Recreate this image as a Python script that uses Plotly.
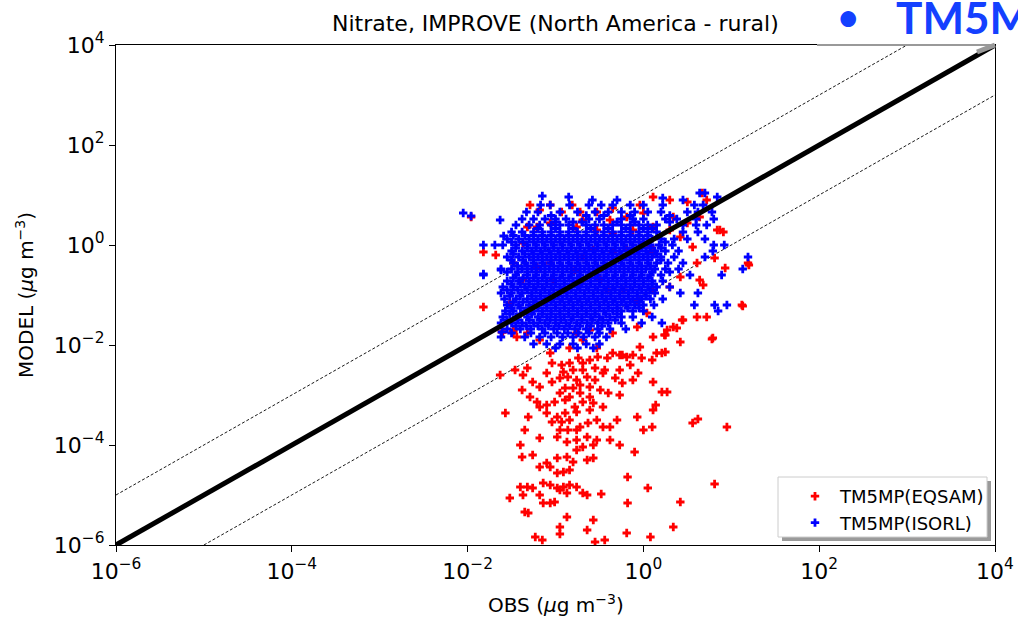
import plotly.graph_objects as go

# ---------------- data (log10 of values) ----------------
axis_range_exp = [-6, 4]          # both axes span 1e-6 .. 1e4
tick_exps = [-6, -4, -2, 0, 2, 4]

# TM5MP(ISORL): rows of (log10 MODEL, [log10 OBS ...])
isorl_rows = [
    (0.98, [-1.15]),
    (0.96, [-0.85, 0.84]),
    (0.94, [0.22]),
    (1.04, [0.64, 0.70]),
    (0.90, [-0.58, -0.30, 0.45]),
    (0.80, [-1.17, -1.06, -0.84, -0.62, -0.48, -0.35, -0.15, 0.0, 0.22, 0.58, 0.68]),
    (0.66, [-1.33, -1.2, -0.95, -0.75, -0.55, -0.4, -0.25, -0.1, 0.05, 0.2, 0.5, 0.62, 0.78]),
    (0.52, [-1.38, -1.25, -1.12, -1.0, -0.88, -0.62, -0.5, -0.25, -0.12, 0.0, 0.25, 0.38, 0.6, 0.8]),
    (0.40, [-1.45, -1.3, -1.18, -1.05, -0.95, -0.85, -0.65, -0.55, -0.45, -0.35, -0.25, -0.15, -0.05, 0.05, 0.15, 0.45, 0.6, 0.72]),
    (0.26, [-1.5, -1.38, -1.25, -1.15, -1.05, -0.95, -0.85, -0.75, -0.65, -0.55, -0.45, -0.35, -0.25, -0.15, -0.05, 0.05, 0.15, 0.45, 0.62]),
    (0.12, [-1.55, -1.42, -1.3, -1.2, -1.1, -1.0, -0.9, -0.8, -0.7, -0.6, -0.5, -0.4, -0.3, -0.2, -0.1, 0.0, 0.1, 0.2, 0.35, 0.5, 0.7]),
    (0.00, [-1.82, -1.69, -1.6, -1.45, -1.32, -1.22, -1.12, -1.02, -0.92, -0.82, -0.72, -0.62, -0.52, -0.42, -0.32, -0.22, -0.12, -0.02, 0.08, 0.18, 0.33, 0.8, 0.92]),
    (-0.12, [-1.5, -1.38, -1.27, -1.17, -1.07, -0.97, -0.87, -0.77, -0.67, -0.57, -0.47, -0.37, -0.27, -0.17, -0.07, 0.03, 0.13, 0.25, 0.4, 0.79]),
    (-0.24, [-1.55, -1.42, -1.3, -1.2, -1.1, -1.0, -0.9, -0.8, -0.7, -0.6, -0.5, -0.4, -0.3, -0.2, -0.1, 0.0, 0.1, 0.2, 0.35, 0.7, 1.19]),
    (-0.36, [-1.48, -1.35, -1.25, -1.15, -1.05, -0.95, -0.85, -0.75, -0.65, -0.55, -0.45, -0.35, -0.25, -0.15, -0.05, 0.05, 0.15, 0.28, 0.45]),
    (-0.48, [-1.62, -1.5, -1.38, -1.27, -1.17, -1.07, -0.97, -0.87, -0.77, -0.67, -0.57, -0.47, -0.37, -0.27, -0.17, -0.07, 0.03, 0.13, 0.25, 0.4, 1.13]),
    (-0.60, [-1.82, -1.45, -1.32, -1.22, -1.12, -1.02, -0.92, -0.82, -0.72, -0.62, -0.52, -0.42, -0.32, -0.22, -0.12, -0.02, 0.08, 0.2, 0.53, 0.89]),
    (-0.72, [-1.55, -1.42, -1.3, -1.2, -1.1, -1.0, -0.9, -0.8, -0.7, -0.6, -0.5, -0.4, -0.3, -0.2, -0.1, 0.0, 0.1, 0.22]),
    (-0.84, [-1.6, -1.48, -1.35, -1.25, -1.15, -1.05, -0.95, -0.85, -0.75, -0.65, -0.55, -0.45, -0.35, -0.25, -0.15, -0.05, 0.05, 0.15, 0.3]),
    (-0.96, [-1.62, -1.5, -1.38, -1.27, -1.17, -1.07, -0.97, -0.87, -0.77, -0.67, -0.57, -0.47, -0.37, -0.27, -0.17, -0.07, 0.03, 0.13, 0.42, 0.62]),
    (-1.08, [-1.58, -1.45, -1.32, -1.22, -1.12, -1.02, -0.92, -0.82, -0.72, -0.62, -0.52, -0.42, -0.32, -0.22, -0.12, -0.02, 0.08, 0.22]),
    (-1.20, [-1.55, -1.42, -1.3, -1.2, -1.1, -1.0, -0.9, -0.8, -0.7, -0.6, -0.5, -0.4, -0.3, -0.2, -0.1, 0.0, 0.12, 0.58, 0.81, 0.95]),
    (-1.32, [-1.57, -1.48, -1.35, -1.25, -1.15, -1.05, -0.95, -0.85, -0.75, -0.65, -0.55, -0.45, -0.35, -0.25, -0.12, 0.0, 0.85]),
    (-1.44, [-1.6, -1.45, -1.32, -1.2, -1.1, -1.0, -0.9, -0.8, -0.7, -0.6, -0.5, -0.38, -0.25, -0.12, 0.1]),
    (-1.56, [-1.62, -1.5, -1.38, -1.25, -1.12, -1.0, -0.88, -0.76, -0.64, -0.52, -0.4, -0.25, -0.02, 0.21]),
    (-1.68, [-1.55, -1.4, -1.28, -1.15, -1.02, -0.9, -0.78, -0.65, -0.52, -0.38, -0.2]),
    (-1.84, [-1.62, -1.35, -1.18, -1.05, -0.92, -0.8, -0.68, -0.55, -0.42]),
    (-1.98, [-1.25, -1.1, -0.95, -0.8, -0.65, -0.5]),
    (-2.06, [-1.0, -0.75, -0.57]),
]
# ISORL dense core, in-between rows (log10 MODEL, [log10 OBS ...])
isorl_core_rows = [
    (0.59, [-1.05, -0.65, -0.45, -0.15, 0.3]),
    (0.46, [-1.0, -0.8, -0.7, -0.3, -0.1, 0.3]),
    (0.33, [-1.2, -1.0, -0.8, -0.6, -0.4, -0.2, 0.0, 0.1]),
    (0.19, [-1.48, -1.35, -1.25, -1.15, -1.05, -0.95, -0.85, -0.75, -0.65, -0.55, -0.45, -0.35, -0.25, -0.15, -0.05, 0.05]),
    (0.06, [-1.5, -1.37, -1.25, -1.15, -1.05, -0.95, -0.85, -0.75, -0.65, -0.55, -0.45, -0.35, -0.25, -0.15, -0.05, 0.05, 0.25]),
    (-0.06, [-1.45, -1.32, -1.22, -1.12, -1.02, -0.92, -0.82, -0.72, -0.62, -0.52, -0.42, -0.32, -0.22, -0.12, -0.02, 0.08, 0.2]),
    (-0.18, [-1.48, -1.35, -1.25, -1.15, -1.05, -0.95, -0.85, -0.75, -0.65, -0.55, -0.45, -0.35, -0.25, -0.15, -0.05, 0.05, 0.15]),
    (-0.30, [-1.5, -1.37, -1.25, -1.15, -1.05, -0.95, -0.85, -0.75, -0.65, -0.55, -0.45, -0.35, -0.25, -0.15, -0.05, 0.05, 0.2]),
    (-0.42, [-1.43, -1.32, -1.22, -1.12, -1.02, -0.92, -0.82, -0.72, -0.62, -0.52, -0.42, -0.32, -0.22, -0.12, -0.02, 0.08]),
    (-0.54, [-1.55, -1.43, -1.32, -1.22, -1.12, -1.02, -0.92, -0.82, -0.72, -0.62, -0.52, -0.42, -0.32, -0.22, -0.12, -0.02, 0.1, 0.3]),
    (-0.66, [-1.48, -1.37, -1.25, -1.15, -1.05, -0.95, -0.85, -0.75, -0.65, -0.55, -0.45, -0.35, -0.25, -0.15, -0.05, 0.05]),
    (-0.78, [-1.5, -1.4, -1.3, -1.2, -1.1, -1.0, -0.9, -0.8, -0.7, -0.6, -0.5, -0.4, -0.3, -0.2, -0.1, 0.0, 0.1]),
    (-0.90, [-1.55, -1.43, -1.32, -1.22, -1.12, -1.02, -0.92, -0.82, -0.72, -0.62, -0.52, -0.42, -0.32, -0.22, -0.12, -0.02, 0.08]),
    (-1.02, [-1.52, -1.4, -1.27, -1.17, -1.07, -0.97, -0.87, -0.77, -0.67, -0.57, -0.47, -0.37, -0.27, -0.17, -0.07, 0.03]),
    (-1.14, [-1.48, -1.37, -1.25, -1.15, -1.05, -0.95, -0.85, -0.75, -0.65, -0.55, -0.45, -0.35, -0.25, -0.15, -0.05]),
    (-1.26, [-1.5, -1.4, -1.3, -1.2, -1.1, -1.0, -0.9, -0.8, -0.7, -0.6, -0.5, -0.4, -0.3, -0.18, -0.05]),
    (-1.38, [-1.52, -1.4, -1.27, -1.15, -1.05, -0.95, -0.85, -0.75, -0.65, -0.55, -0.43, -0.3]),
    (-1.50, [-1.55, -1.43, -1.3, -1.18, -1.06, -0.94, -0.82, -0.7, -0.58, -0.46, -0.32]),
    (-1.62, [-1.45, -1.33, -1.2, -1.08, -0.96, -0.84, -0.72, -0.6, -0.47]),
    (-1.76, [-1.5, -1.28, -1.12, -0.98, -0.86, -0.74, -0.62, -0.5]),
]
# ISORL isolated points (log10 OBS, log10 MODEL)
isorl_extra = [(-2.05, 0.64), (-1.96, 0.58), (-1.63, 0.50), (-1.59, 0.18), (-1.62, -0.50),
               (-1.82, -0.58), (-1.61, -1.74)]

# TM5MP(EQSAM): (log10 OBS, log10 MODEL)
eqsam_cluster = [
    (-1.96, 0.56), (-1.82, -0.14), (-1.68, -0.20), (-1.82, -1.24), (-1.52, -1.16), (-1.60, -1.74),
    (-1.06, 0.80), (-0.93, 0.66), (-0.81, 0.80), (-0.76, 0.36), (-0.69, 0.50), (-0.53, 0.66),
    (-0.35, 0.74), (-0.04, 0.80), (0.11, 0.96), (0.30, 0.90), (0.50, 0.86), (0.67, 1.04),
    (0.72, 0.90), (0.64, 0.56), (0.84, 0.30), (0.91, 0.26), (0.93, -0.46), (1.12, -1.20),
    (1.19, -0.36), (0.79, -1.86), (0.72, -1.44), (0.61, -1.44), (0.45, -1.50), (0.34, -1.64),
    (0.27, -1.70), (0.42, -1.94), (0.15, -2.16), (-0.04, -2.04), (-0.24, -2.20), (-0.53, -2.06),
    (-0.69, -1.90), (-0.84, -2.06), (-1.06, -2.16), (-1.18, -1.90), (-1.32, -1.76), (-1.44, -1.84),
    (-0.07, -1.64), (0.04, -1.36), (-0.07, -1.10), (0.11, -0.90), (0.30, -0.84), (0.42, -0.64),
    (0.64, -0.70), (0.61, -0.36), (0.56, -0.04), (0.42, 0.16), (0.30, 0.30), (0.08, -0.04),
    (0.11, -0.16), (-0.19, -0.10), (-0.35, -0.16), (-0.57, -0.10), (-0.69, -0.24), (-0.78, -0.50),
    (-0.72, -0.76), (-0.49, -0.70), (-0.41, -0.90), (-0.23, -0.90), (-1.03, -0.70), (-1.06, -0.36),
    (-1.21, -0.44), (-1.37, -0.70), (-1.48, -0.36), (-1.37, 0.04), (-1.21, 0.36), (-1.06, 0.44),
    (-1.32, 0.36), (-0.53, 0.30), (-0.35, 0.24), (-0.12, 0.30), (0.11, 0.36), (0.34, 0.56),
    (0.50, 0.44), (0.00, 0.64), (-0.19, 0.56), (-0.38, 0.50), (-0.72, 0.66), (-1.18, 0.70),
    (-1.29, 0.80), (0.87, 0.30), (0.81, -0.26), (1.20, -0.40), (0.68, -0.80), (0.44, -1.50),
    (0.38, -1.66), (0.24, -1.80), (-1.48, -1.70), (1.13, -1.22),
]
eqsam_tail = [
    (-1.48, -1.74), (-0.76, -1.76), (-0.61, -1.70), (-0.35, -1.76), (0.11, -1.84), (0.25, -1.80),
    (0.78, -1.88), (-1.61, -1.74),
    (-1.04, -2.36), (-0.93, -2.40), (-0.84, -2.36), (-0.74, -2.26), (-0.69, -2.36), (-0.61, -2.30),
    (-0.52, -2.24), (-0.41, -2.26), (-0.35, -2.16), (-0.27, -2.20), (-0.19, -2.24), (-0.12, -2.20),
    (-0.02, -2.26), (0.10, -2.30), (0.21, -2.16), (0.25, -2.14), (-0.06, -2.56), (-0.15, -2.40),
    (-0.27, -2.50), (-0.44, -2.50), (-0.55, -2.46), (-0.69, -2.50), (-0.80, -2.50), (-0.91, -2.54),
    (-1.10, -2.56), (-1.32, -2.46), (-1.46, -2.50), (-1.37, -2.60), (-1.63, -2.60),
    (-1.26, -2.74), (-1.04, -2.74), (-0.95, -2.66), (-0.86, -2.64), (-0.76, -2.70), (-0.64, -2.64),
    (-0.55, -2.70), (-0.46, -2.56), (-0.32, -2.66), (-0.24, -2.76), (-0.12, -2.70), (0.11, -2.74),
    (-0.89, -2.86), (-0.80, -2.86), (-0.72, -2.80), (-0.61, -2.84), (-0.49, -2.90), (-0.40, -2.96),
    (-0.27, -3.00), (-0.95, -2.96), (-0.84, -3.04), (-0.72, -2.96), (-0.61, -3.04), (-1.18, -2.84),
    (-1.29, -3.04), (0.21, -2.94), (0.27, -2.94), (-1.38, -2.90),
    (-1.21, -3.14), (-1.10, -3.20), (-1.01, -3.14), (-0.89, -3.10), (-0.78, -3.24), (-0.69, -3.14),
    (-0.57, -3.16), (-0.46, -3.24), (-1.10, -3.36), (-0.98, -3.44), (-0.89, -3.36), (-0.76, -3.34),
    (-0.61, -3.30), (-1.04, -3.54), (-0.93, -3.54), (-0.84, -3.50), (-0.72, -3.64), (-0.63, -3.56),
    (-0.53, -3.50), (-0.95, -3.70), (-0.86, -3.70), (-0.76, -3.70), (-0.46, -3.64), (-0.38, -3.64),
    (-0.30, -3.50), (-0.07, -3.44), (0.00, -3.70), (0.10, -3.64), (0.11, -3.30), (-1.31, -3.44),
    (-1.57, -3.36), (-1.18, -3.24), (0.14, -3.20),
    (-1.18, -3.86), (-0.98, -3.84), (-0.87, -3.94), (-0.76, -3.90), (-0.64, -3.84), (-0.53, -3.90),
    (-0.69, -4.04), (-0.57, -4.00), (-0.76, -4.10), (-0.87, -4.24), (-0.98, -4.26), (-1.10, -4.36),
    (-1.18, -4.44), (-1.06, -4.44), (-0.98, -4.56), (-0.91, -4.54), (-0.84, -4.50), (-0.80, -4.34),
    (-0.64, -4.30), (-0.57, -4.26), (-1.40, -4.00), (-1.38, -4.24), (-1.26, -4.20), (-0.27, -4.00),
    (-0.38, -3.90), (-0.10, -4.14), (-0.18, -4.64), (-1.35, -3.70),
    (-1.40, -4.84), (-1.32, -4.84), (-1.26, -4.86), (-1.14, -4.76), (-1.06, -4.80), (-0.98, -4.86),
    (-0.91, -4.84), (-0.84, -4.80), (-0.76, -4.84), (-0.69, -4.96), (-0.64, -5.00), (-0.87, -4.96),
    (-0.95, -4.90), (-1.14, -5.16), (-1.06, -5.16), (-1.01, -5.14), (-1.18, -5.00), (-1.37, -5.00),
    (-1.52, -5.06), (-0.48, -4.98), (-0.18, -5.16), (0.05, -4.86),
    (-1.35, -5.34), (-1.31, -5.36), (-1.23, -5.84), (-1.15, -5.90), (-0.95, -5.64), (-0.87, -5.44),
    (-0.95, -5.78), (-0.64, -5.70), (-0.57, -5.50), (-0.55, -5.94), (-0.44, -5.90), (-0.19, -5.76),
    (0.08, -5.84), (0.34, -5.64), (0.42, -5.14), (0.81, -4.78),
    (0.95, -3.64), (0.56, -3.56), (0.62, -3.48),
]

title_text = "Nitrate, IMPROVE (North America - rural)"
x_title = "OBS (<i>μ</i>g m<sup>−3</sup>)"
y_title = "MODEL (<i>μ</i>g m<sup>−3</sup>)"
series_names = ["TM5MP(EQSAM)", "TM5MP(ISORL)"]
banner_text = "TM5MP(ISORL)"

# ---------------- build ----------------
isorl_obs, isorl_mod = [], []
for ly, lxs in isorl_rows + isorl_core_rows:
    for lx in lxs:
        isorl_obs.append(10 ** lx)
        isorl_mod.append(10 ** ly)
for lx, ly in isorl_extra:
    isorl_obs.append(10 ** lx)
    isorl_mod.append(10 ** ly)

eq_pts = eqsam_cluster + eqsam_tail
eq_obs = [10 ** p[0] for p in eq_pts]
eq_mod = [10 ** p[1] for p in eq_pts]

lo, hi = 10 ** axis_range_exp[0], 10 ** axis_range_exp[1]
FONT = "DejaVu Sans"

fig = go.Figure()
# reference lines: 10:1 and 1:10 (dashed), 1:1 (thick)
fig.add_trace(go.Scatter(x=[lo, hi / 10], y=[lo * 10, hi], mode="lines",
                         line=dict(color="black", width=0.9, dash="3px,2px"),
                         showlegend=False, hoverinfo="skip"))
fig.add_trace(go.Scatter(x=[lo * 10, hi], y=[lo, hi / 10], mode="lines",
                         line=dict(color="black", width=0.9, dash="3px,2px"),
                         showlegend=False, hoverinfo="skip"))

fig.add_trace(go.Scatter(x=eq_obs, y=eq_mod, mode="markers", name=series_names[0],
                         marker=dict(symbol="cross", size=7, color="#ff0000", line=dict(width=0))))
fig.add_trace(go.Scatter(x=isorl_obs, y=isorl_mod, mode="markers", name=series_names[1],
                         marker=dict(symbol="cross", size=7, color="#0000ff", line=dict(width=0))))

fig.add_trace(go.Scatter(x=[lo, hi], y=[lo, hi], mode="lines",
                         line=dict(color="black", width=5),
                         showlegend=False, hoverinfo="skip"))

ticktext = ["10<sup>−%d</sup>" % (-e) if e < 0 else "10<sup>%d</sup>" % e for e in tick_exps]
tickvals = [10 ** e for e in tick_exps]
axis_common = dict(type="log", range=axis_range_exp, tickvals=tickvals, ticktext=ticktext,
                   showgrid=False, zeroline=False, showline=True, linecolor="black", linewidth=1.2,
                   mirror=True, ticks="outside", ticklen=6, tickwidth=1.2, tickcolor="black",
                   automargin=False,
                   tickfont=dict(family=FONT, size=22, color="black"))
fig.update_xaxes(**axis_common)
fig.update_yaxes(**axis_common)


def px_x(p):  # screen pixel -> paper x
    return (p - 116) / 879.0


def px_y(p):  # screen pixel -> paper y
    return (545 - p) / 500.0


fig.update_layout(
    width=1018, height=619, autosize=False,
    margin=dict(l=116, r=23, t=45, b=74, autoexpand=False),
    plot_bgcolor="white", paper_bgcolor="white",
    font=dict(family=FONT, color="black"),
    showlegend=True,
    legend=dict(x=px_x(790), y=px_y(478), xanchor="left", yanchor="top",
                bgcolor="rgba(0,0,0,0)", borderwidth=0,
                font=dict(family=FONT, size=18, color="black"),
                itemwidth=40, tracegroupgap=0),
    shapes=[
        dict(type="rect", xref="paper", yref="paper", x0=px_x(782), x1=px_x(991),
             y0=px_y(541), y1=px_y(481), fillcolor="#9a9a9a", line=dict(width=0), layer="above"),
        dict(type="rect", xref="paper", yref="paper", x0=px_x(778), x1=px_x(987),
             y0=px_y(537), y1=px_y(477), fillcolor="white", line=dict(color="#cccccc", width=1),
             layer="above"),
        dict(type="line", xref="paper", yref="paper", x0=px_x(817), x1=1.0, y0=1.0, y1=1.0,
             line=dict(color="#999999", width=2), layer="above"),
        dict(type="line", xref="paper", yref="paper", x0=px_x(977), x1=1.0, y0=px_y(52), y1=1.0,
             line=dict(color="#999999", width=5), layer="above"),
    ],
    annotations=[
        dict(text=title_text, xref="paper", yref="paper", x=0.5, y=px_y(24),
             xanchor="center", yanchor="middle", showarrow=False,
             font=dict(family=FONT, size=22, color="black")),
        dict(text=x_title, xref="paper", yref="paper", x=0.5, y=px_y(604),
             xanchor="center", yanchor="middle", showarrow=False,
             font=dict(family=FONT, size=20, color="black")),
        dict(text=y_title, xref="paper", yref="paper", x=px_x(25), y=0.5, textangle=-90,
             xanchor="center", yanchor="middle", showarrow=False,
             font=dict(family=FONT, size=20, color="black")),
        dict(text="•", xref="paper", yref="paper", x=px_x(848), y=px_y(16),
             xanchor="center", yanchor="middle", showarrow=False,
             font=dict(family="Lato", size=42, color="#1440ff")),
        dict(text="<b>" + banner_text + "</b>", xref="paper", yref="paper", x=px_x(894), y=px_y(17),
             xanchor="left", yanchor="middle", showarrow=False,
             font=dict(family="Lato", size=44, color="#1440ff")),
    ],
)

fig.write_html(
    "out.html",
    config={"displayModeBar": False, "responsive": False},
    default_width="1018px", default_height="619px",
    post_script="document.body.style.margin='0';document.body.style.overflow='hidden';",
)
